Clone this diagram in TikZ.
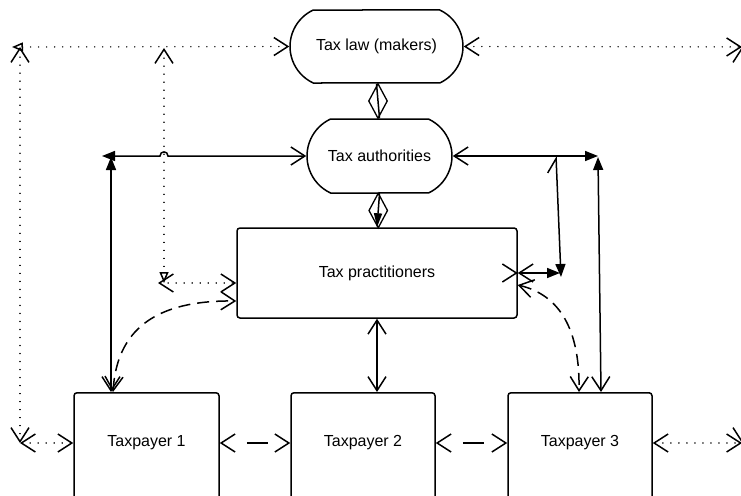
\documentclass[tikz,border=0pt]{standalone}
\usepackage{fontspec}
\setmainfont{Liberation Sans}
\usetikzlibrary{arrows.meta,shapes.misc,shapes.geometric,calc}
\tikzset{
  ob/.tip={Straight Barb[length=14pt,width=18pt]},
  obh/.tip={Straight Barb[length=14pt,width=18pt,harpoon]},
  ft/.tip={Triangle[length=13pt,width=10pt]},
  otr/.tip={Triangle[open,length=11pt,width=9pt]},
}
\begin{document}
\begin{tikzpicture}[x=1pt,y=-1pt,line width=1.5pt,
  every node/.style={font=\fontsize{16}{19}\selectfont},
  stadium/.style={rounded rectangle, rounded rectangle arc length=130, draw, minimum height=73pt, inner sep=0pt},
  boxnode/.style={rectangle, draw, rounded corners=3pt, inner sep=0pt},
  txt/.style={inner sep=0pt},
  dia/.style={diamond, draw, inner sep=0pt, minimum width=19pt, minimum height=35pt, line width=1.3pt},
  dotln/.style={line width=1.5pt, line cap=round, dash pattern=on 0.01pt off 8pt},
  dsh/.style={dash pattern=on 12pt off 7pt},
  onedash/.style={dash pattern=on 21pt off 30pt, dash phase=26pt}
]
\useasboundingbox (0,0) rectangle (741,495);
\clip (0,0) rectangle (741,495);

% nodes
\node[stadium, minimum width=173pt] (law) at (376.5,46.5) {Tax law (makers)};
\node[stadium, minimum width=145pt, minimum height=74pt] (auth) at (379.5,156) {Tax authorities};
\node[boxnode, minimum width=280pt, minimum height=90pt] (prac) at (377,273) {Tax practitioners};
\node[boxnode, minimum width=145pt, minimum height=140pt, anchor=north] (tp1) at (146.5,392) {};
\node[boxnode, minimum width=144pt, minimum height=140pt, anchor=north] (tp2) at (363,392) {};
\node[boxnode, minimum width=144pt, minimum height=140pt, anchor=north] (tp3) at (580,392) {};
\node[txt] (tp1t) at (146.5,443) {Taxpayer 1};
\node[txt] (tp2t) at (363,443) {Taxpayer 2};
\node[txt] (tp3t) at (580,443) {Taxpayer 3};

% free ends
\coordinate (tl) at (20,47);
\coordinate (tlh) at (12,47);
\coordinate (bl) at (20,443);
\coordinate (ml) at (164,48);
\coordinate (md) at (164,283);
\coordinate (mdh) at (158,283);
\coordinate (jl) at (160,156);
\coordinate (jr) at (168,156);
\coordinate (E1) at (102,156);
\coordinate (E2) at (111,157);
\coordinate (F1) at (598,156);
\coordinate (F2) at (598,157);
\coordinate (G) at (556,156);
\coordinate (H1) at (560,273);
\coordinate (H2) at (561,277);
\coordinate (tr) at (742,47);
\coordinate (br) at (742,443);

% dotted connectors
\draw[dotln, {otr}-{ob}] (tlh) -- (law.west);
\draw[dotln, {ob}-{ob}] (tl) -- (bl);
\draw[dotln, {ob}-{ob}] (bl) -- (tp1.west |- tp1t);
\draw[dotln, {ob}-{otr}] (ml) -- (md);
\draw[dotln, {ob}-{ob}] (mdh) -- ([yshift=-10pt]prac.west);
\draw[dotln, {ob}-{ob}] (law.east) -- (tr);
\draw[dotln, {ob}-{ob}] (tr) -- (br);
\draw[dotln, {ob}-{ob}] (tp3.east |- tp3t) -- (br);

% solid connectors
\draw[{ft}-{ob}] (E1) -- (jl) .. controls (160,150.5) and (168,150.5) .. (jr) -- (auth.west);
\draw[{ft}-{ob}] (E2) -- ([xshift=-35.5pt]tp1.north);
\draw[{ob}-{ft}] (auth.east) -- (F1);
\draw[{ft}-{ob}] (F2) -- ([xshift=21pt]tp3.north);
\draw[{obh}-{ft}] (G) -- (H2);
\draw[{ob}-{ft}] (prac.east) -- (H1);
\draw[-{ob}] ([xshift=-1pt]prac.east) -- (prac.east);
\draw[{ob}-{ob}] (prac.south) -- (prac.south |- tp2.north);

% dashed connectors
\draw[dsh, {ob}-{ob}] ([xshift=-33.5pt]tp1.north) .. controls (117,330) and (155,300) .. ([yshift=-28pt]prac.west);
\draw[dsh, {ob}-{ob}] ([yshift=-12pt]prac.east) .. controls (560,295) and (580,330) .. ([xshift=-1pt]tp3.north);
\draw[onedash, {ob}-{ob}] (tp1.east |- tp1t) -- (tp2.west |- tp2t);
\draw[onedash, {ob}-{ob}] (tp2.east |- tp2t) -- (tp3.west |- tp3t);

% diamond connectors
\draw (law.south) -- node[dia]{} (auth.north);
\draw[-{Triangle[length=14pt,width=8pt]}] (auth.south) -- node[dia]{} (prac.north);
\end{tikzpicture}
\end{document}
